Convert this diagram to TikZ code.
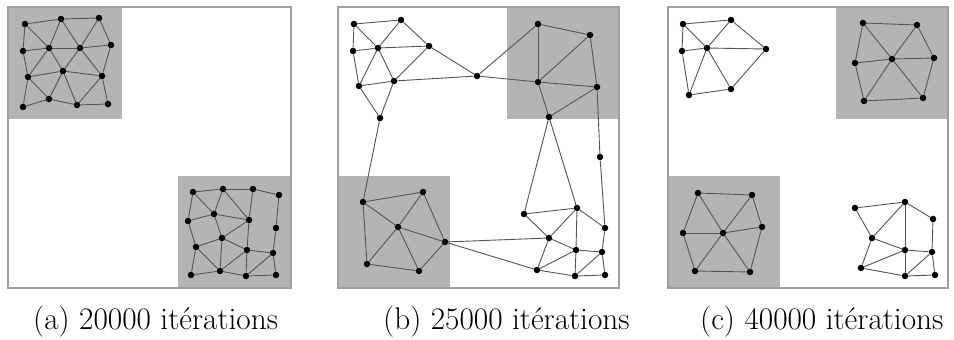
\documentclass[tikz,border=0pt]{standalone}
\usetikzlibrary{backgrounds}
\definecolor{framegray}{RGB}{160,160,160}
\definecolor{regiongray}{RGB}{180,180,180}
\definecolor{edgegray}{RGB}{85,85,85}
\tikzset{
  nd/.style={circle,fill=black,inner sep=0pt,minimum size=6.5pt},
  edge/.style={draw=edgegray,line width=0.9pt},
  panelframe/.style={draw=framegray,line width=1.6pt},
  region/.style={fill=regiongray},
  captext/.style={anchor=base west,inner sep=0pt,font=\fontsize{31.3}{34}\selectfont}
}
\begin{document}
\begin{tikzpicture}[x=1pt,y=-1pt]
\useasboundingbox (0,0) rectangle (954,340);
\begin{scope}[on background layer]
% ---------- regions ----------
\fill[region] (8,7) rectangle (122,119);
\fill[region] (178,176) rectangle (291,288);
\fill[region] (507,7) rectangle (619,119);
\fill[region] (338,176) rectangle (450,288);
\fill[region] (836,7) rectangle (948,119);
\fill[region] (668,176) rectangle (780,288);
% ---------- frames ----------
\draw[panelframe] (8,7) rectangle (291,288);
\draw[panelframe] (338,7) rectangle (619,288);
\draw[panelframe] (668,7) rectangle (948,288);
\end{scope}
% ================= panel (a) =================
\node[nd] (a1) at (25,24) {};
\node[nd] (a2) at (61,19) {};
\node[nd] (a3) at (99,18) {};
\node[nd] (a4) at (23,51) {};
\node[nd] (a5) at (49,48) {};
\node[nd] (a6) at (80,48) {};
\node[nd] (a7) at (111,45) {};
\node[nd] (a8) at (28,77) {};
\node[nd] (a9) at (63,71) {};
\node[nd] (a10) at (102,76) {};
\node[nd] (a11) at (23,107) {};
\node[nd] (a12) at (49,99) {};
\node[nd] (a13) at (77,105) {};
\node[nd] (a14) at (108,104) {};
\begin{scope}[on background layer]
\foreach \u/\v in {a1/a2,a2/a3,a1/a4,a1/a5,a2/a5,a2/a6,a3/a6,a3/a7,a4/a5,a5/a6,a6/a7,
  a4/a8,a5/a8,a5/a9,a6/a9,a6/a10,a7/a10,a8/a9,a9/a10,a8/a11,a8/a12,a9/a12,a9/a13,
  a10/a13,a10/a14,a11/a12,a12/a13,a13/a14}
  \draw[edge] (\u) -- (\v);
\end{scope}
\node[nd] (m1) at (193,192) {};
\node[nd] (m2) at (223,189) {};
\node[nd] (m3) at (253,189) {};
\node[nd] (m4) at (279,195) {};
\node[nd] (m5) at (188,221) {};
\node[nd] (m6) at (214,214) {};
\node[nd] (m7) at (249,220) {};
\node[nd] (m8) at (276,228) {};
\node[nd] (m9) at (196,247) {};
\node[nd] (m10) at (222,238) {};
\node[nd] (m11) at (247,250) {};
\node[nd] (m12) at (273,253) {};
\node[nd] (m13) at (191,275) {};
\node[nd] (m14) at (220,271) {};
\node[nd] (m15) at (246,276) {};
\node[nd] (m16) at (276,275) {};
\begin{scope}[on background layer]
\foreach \u/\v in {m1/m2,m2/m3,m3/m4,m1/m6,m2/m6,m2/m7,m3/m7,m4/m8,m1/m5,m5/m6,m6/m7,
  m6/m10,m5/m9,m9/m10,m10/m7,m10/m11,m7/m11,m11/m12,m12/m8,m9/m13,m9/m14,m10/m14,
  m11/m14,m11/m15,m12/m15,m12/m16,m13/m14,m14/m15,m15/m16}
  \draw[edge] (\u) -- (\v);
\end{scope}
% ================= panel (b) =================
\node[nd] (b1) at (354,24) {};
\node[nd] (b2) at (401,20) {};
\node[nd] (b3) at (353,51) {};
\node[nd] (b4) at (378,48) {};
\node[nd] (b5) at (429,46) {};
\node[nd] (b6) at (359,86) {};
\node[nd] (b7) at (394,81) {};
\node[nd] (b8) at (477,76) {};
\node[nd] (b9) at (380,118) {};
\node[nd] (b10) at (538,24) {};
\node[nd] (b11) at (590,35) {};
\node[nd] (b12) at (538,82) {};
\node[nd] (b13) at (597,87) {};
\node[nd] (b14) at (549,117) {};
\node[nd] (b15) at (600,157) {};
\node[nd] (b16) at (524,214) {};
\node[nd] (b17) at (577,208) {};
\node[nd] (b18) at (605,228) {};
\node[nd] (b19) at (549,238) {};
\node[nd] (b20) at (576,250) {};
\node[nd] (b21) at (602,252) {};
\node[nd] (b22) at (537,270) {};
\node[nd] (b23) at (575,276) {};
\node[nd] (b24) at (605,275) {};
\node[nd] (c1) at (363,202) {};
\node[nd] (c2) at (423,192) {};
\node[nd] (c3) at (398,227) {};
\node[nd] (c4) at (445,242) {};
\node[nd] (c5) at (367,264) {};
\node[nd] (c6) at (419,271) {};
\begin{scope}[on background layer]
\foreach \u/\v in {b1/b2,b1/b3,b1/b4,b2/b4,b2/b5,b3/b4,b4/b5,b3/b6,b4/b6,b4/b7,b5/b7,
  b6/b7,b7/b8,b5/b8,b6/b9,b7/b9,b9/c1,
  b8/b10,b8/b12,b10/b11,b10/b12,b11/b12,b11/b13,b12/b13,b12/b14,b13/b14,
  b14/b16,b14/b17,b13/b15,b15/b18,
  b16/b17,b16/b19,b17/b19,b17/b20,b17/b18,b18/b21,b19/b20,b19/b22,b20/b21,b20/b22,
  b20/b23,b21/b23,b21/b24,b22/b23,b23/b24,
  c1/c2,c1/c3,c1/c5,c2/c3,c2/c4,c3/c4,c3/c5,c3/c6,c5/c6,c6/c4,c4/b19,c4/b22}
  \draw[edge] (\u) -- (\v);
\end{scope}
% ================= panel (c) =================
\node[nd] (d1) at (683,24) {};
\node[nd] (d2) at (731,20) {};
\node[nd] (d3) at (682,51) {};
\node[nd] (d4) at (707,48) {};
\node[nd] (d5) at (766,49) {};
\node[nd] (d6) at (689,95) {};
\node[nd] (d7) at (731,89) {};
\node[nd] (e1) at (863,23) {};
\node[nd] (e2) at (917,25) {};
\node[nd] (e3) at (855,63) {};
\node[nd] (e4) at (892,59) {};
\node[nd] (e5) at (934,58) {};
\node[nd] (e6) at (864,101) {};
\node[nd] (e7) at (923,98) {};
\node[nd] (f1) at (698,193) {};
\node[nd] (f2) at (752,195) {};
\node[nd] (f3) at (683,233) {};
\node[nd] (f4) at (723,233) {};
\node[nd] (f5) at (762,227) {};
\node[nd] (f6) at (695,271) {};
\node[nd] (f7) at (750,272) {};
\node[nd] (g1) at (855,208) {};
\node[nd] (g2) at (905,202) {};
\node[nd] (g3) at (933,219) {};
\node[nd] (g4) at (872,238) {};
\node[nd] (g5) at (905,250) {};
\node[nd] (g6) at (932,252) {};
\node[nd] (g7) at (861,268) {};
\node[nd] (g8) at (905,276) {};
\node[nd] (g9) at (935,275) {};
\begin{scope}[on background layer]
\foreach \p in {d,e,f}
  \foreach \u/\v in {1/2,1/3,1/4,2/4,2/5,3/4,4/5,3/6,4/6,4/7,5/7,6/7}
    \draw[edge] (\p\u) -- (\p\v);
\foreach \u/\v in {g1/g2,g1/g4,g2/g4,g2/g5,g2/g3,g3/g6,g4/g5,g4/g7,g5/g6,g5/g7,
  g5/g8,g6/g8,g6/g9,g7/g8,g8/g9}
  \draw[edge] (\u) -- (\v);
\end{scope}
% ---------- captions ----------
\node[captext] (capa) at (33,329) {(a) 20000 itérations};
\node[captext] (capb) at (383,329) {(b) 25000 itérations};
\node[captext] (capc) at (700,329) {(c) 40000 itérations};
\end{tikzpicture}
\end{document}
